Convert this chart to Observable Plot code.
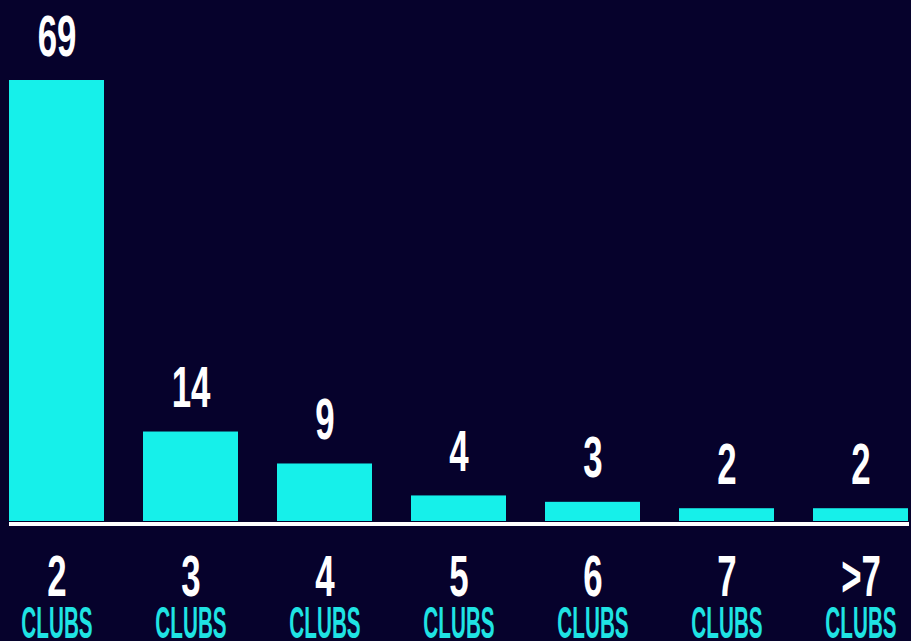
<!DOCTYPE html>
<html>
<head>
<meta charset="utf-8">
<script src="https://cdn.jsdelivr.net/npm/d3@7"></script>
<script src="https://cdn.jsdelivr.net/npm/@observablehq/plot@0.6"></script>
<style>
  html, body { margin: 0; padding: 0; background: #06022c; overflow: hidden; }
</style>
</head>
<body>
<div id="chart"></div>
<script>
const categories = ["2", "3", "4", "5", "6", "7", ">7"];
const values = [69, 14, 9, 4, 3, 2, 2];
const unitLabel = "CLUBS";

const data = categories.map((c, i) => ({cat: c, value: values[i]}));

const BG = "#06022c";
const CYAN = "#16f0ea";
const CYAN_TEXT = "#1fe3e3";
const FONT = "'Liberation Sans', Arial, sans-serif";

const plot = Plot.plot({
  width: 911,
  height: 641,
  marginLeft: 9,
  marginRight: 2,
  marginTop: 80,
  marginBottom: 120,
  style: {background: BG, fontFamily: FONT},
  x: {domain: categories, type: "band", paddingInner: 0.29, paddingOuter: 0, axis: null},
  y: {domain: [0, 69], axis: null},
  marks: [
    Plot.barY(data, {x: "cat", y: "value", fill: CYAN}),
    Plot.ruleY([0], {stroke: "white", strokeWidth: 4, dy: 2.5}),
    Plot.text(data, {
      x: "cat", y: "value", text: d => String(d.value),
      fill: "white", fontSize: 58, fontWeight: "bold",
      lineAnchor: "bottom", dy: -25, ariaDescription: "values"
    }),
    Plot.text(data, {
      x: "cat", y: () => 0, text: "cat",
      fill: "white", fontSize: 58, fontWeight: "bold",
      lineAnchor: "bottom", dy: 74, ariaDescription: "numbers"
    }),
    Plot.text(data, {
      x: "cat", y: () => 0, text: () => unitLabel,
      fill: CYAN_TEXT, fontSize: 45, fontWeight: "bold",
      lineAnchor: "bottom", dy: 116, ariaDescription: "units"
    })
  ]
});

document.getElementById("chart").appendChild(plot);

// condense the text horizontally to mimic the reference's narrow display face
function condense(desc, s) {
  plot.querySelectorAll(`g[aria-description="${desc}"] text`).forEach(el => {
    const x = +el.getAttribute("x") || 0;
    const y = +el.getAttribute("y") || 0;
    const t = el.getAttribute("transform") || "";
    el.setAttribute("x", 0);
    el.setAttribute("y", 0);
    el.setAttribute("transform", `${t} translate(${x},${y}) scale(${s},1)`);
  });
}
condense("values", 0.6);
condense("numbers", 0.6);
condense("units", 0.46);
</script>
</body>
</html>
